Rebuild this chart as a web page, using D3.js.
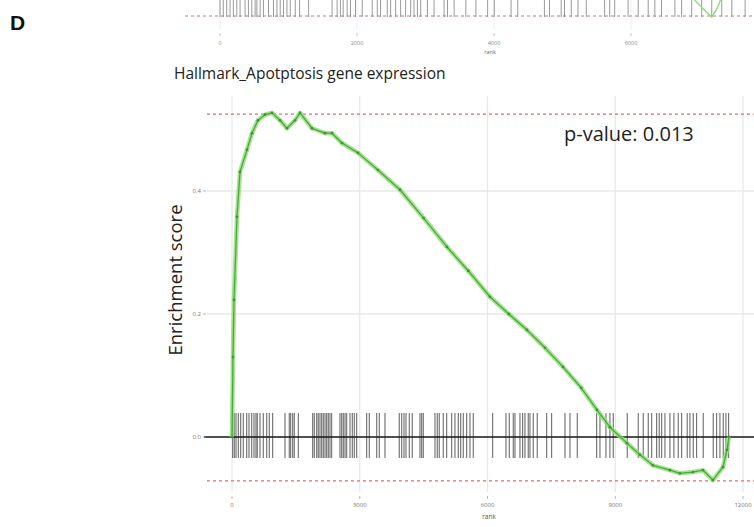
<!DOCTYPE html>
<html><head><meta charset="utf-8">
<script src="https://cdn.jsdelivr.net/npm/d3@7"></script>
<style>body{margin:0;background:#fff}svg{display:block}</style>
</head><body>
<svg id="c" width="754" height="527"></svg>
<script>
// ---- main panel data ----
const esRank = [0,23,47,117,188,352,470,610,775,939,1127,1291,1479,1597,1878,2184,2348,2583,2958,3428,3945,4500,5048,5550,6058,6500,6927,7350,7772,8200,8570,8875,9275,9580,9885,10284,10519,10824,11059,11294,11529,11623,11670];
const esValue = [0,0.130,0.223,0.358,0.431,0.467,0.494,0.515,0.524,0.527,0.515,0.502,0.515,0.527,0.502,0.494,0.494,0.478,0.462,0.434,0.402,0.356,0.309,0.270,0.228,0.200,0.174,0.145,0.114,0.080,0.044,0.016,-0.010,-0.029,-0.046,-0.054,-0.059,-0.057,-0.054,-0.070,-0.049,-0.021,0];
const hitRanks = [16,54,94,148,204,265,345,399,463,517,563,594,657,735,815,876,955,1244,1345,1378,1425,1463,1557,1895,1932,1989,2026,2066,2106,2144,2184,2223,2261,2301,2341,2536,2576,2614,2654,2693,2771,2825,2872,2928,3163,3224,3398,3459,3592,3928,3985,4039,4086,4163,4233,4414,4454,4492,4766,4820,4867,4961,5041,5159,5236,5314,5370,5431,5511,5588,5666,6121,6434,6511,6605,6645,6762,6825,6879,6957,6997,7075,7168,7389,7506,7819,7936,8108,8563,8641,8782,8875,8953,9282,9540,9657,9775,9855,9972,10033,10090,10167,10284,10378,10479,10559,10690,10754,10831,10911,11066,11301,11381,11458,11536,11599,11662];
const xTicks = [0,3000,6000,9000,12000];
const yTicks = [0.0,0.2,0.4];
const esMax = 0.525, esMin = -0.0715;
const titleText = "Hallmark_Apotptosis gene expression";
const pText = "p-value: 0.013";
// ---- partial panel above (cut off) ----
const topHits = [0,48,98,147,195,245,293,366,415,464,513,538,586,634,708,781,831,879,927,977,1026,1099,1162,1294,1636,1710,1758,1798,1856,1905,1978,2076,2222,2296,2344,2442,2491,2564,2637,2710,2784,2832,2882,2930,3028,3125,3271,3321,3418,3589,3736,3907,4004,4249,4347,4736,4810,4981,5029,5128,5226,5347,5615,5689,5762,5958,6105,6251,6348,6446,6641,6739,6886,7032,7179,7325,7472,7666];
const topTicks = [0,2000,4000,6000];
const topCurveRank = [6700,6886,7000,7179,7260,7325,7420];
const topCurveES = [-0.30,-0.33,-0.36,-0.40,-0.37,-0.33,-0.30];

const svg = d3.select("#c");
const font = "'Open Sans', 'Noto Sans', sans-serif";

// ===== top partial panel =====
const tx = d3.scaleLinear().domain([0,2000]).range([220,357]);
const ty = d3.scaleLinear().domain([-0.4,0]).range([17,-100]);
const tg = svg.append("g");
tg.selectAll("line.tgrid").data(topTicks).join("line")
  .attr("x1",d=>tx(d)).attr("x2",d=>tx(d)).attr("y1",0).attr("y2",30)
  .attr("stroke","#efefef").attr("stroke-width",1);
tg.selectAll("line.thit").data(topHits).join("line")
  .attr("x1",d=>tx(d)).attr("x2",d=>tx(d)).attr("y1",0).attr("y2",17)
  .attr("stroke","#555").attr("stroke-opacity",0.6).attr("stroke-width",1);
tg.append("line").attr("x1",185).attr("x2",754).attr("y1",ty(-0.4)-1).attr("y2",ty(-0.4)-1)
  .attr("stroke","#d9706f").attr("stroke-width",1.1).attr("stroke-dasharray","3,3");
tg.append("path").datum(topCurveRank.map((r,i)=>[r,topCurveES[i]]))
  .attr("d",d3.line().x(d=>tx(d[0])).y(d=>ty(d[1])))
  .attr("fill","none").attr("stroke","#9ad982").attr("stroke-width",1.5);
tg.selectAll("line.ttick").data(topTicks).join("line")
  .attr("x1",d=>tx(d)).attr("x2",d=>tx(d)).attr("y1",33).attr("y2",36)
  .attr("stroke","#999").attr("stroke-width",0.6);
tg.selectAll("text.tl").data(topTicks).join("text")
  .attr("x",d=>tx(d)).attr("y",45).attr("text-anchor","middle")
  .attr("font-family",font).attr("font-size",5.5).attr("fill","#888").text(d=>d);
tg.append("text").attr("x",490).attr("y",54).attr("text-anchor","middle")
  .attr("font-family",font).attr("font-size",5.5).attr("fill","#666").text("rank");

svg.append("text").attr("x",10).attr("y",30).attr("font-family","'Liberation Sans', Arial, sans-serif")
  .attr("font-weight","bold").attr("font-size",21).attr("fill","#111").text("D");

// ===== main panel =====
const x = d3.scaleLinear().domain([0,12000]).range([232,743]);
const y = d3.scaleLinear().domain([0,0.4]).range([437,191]);
const pl = 207, pr = 754, pt = 96, pb = 492;
const g = svg.append("g");

g.selectAll("line.vg").data(xTicks).join("line")
  .attr("x1",d=>x(d)).attr("x2",d=>x(d)).attr("y1",pt).attr("y2",pb)
  .attr("stroke","#e8e8e8").attr("stroke-width",1.3);
g.selectAll("line.hg").data(yTicks).join("line")
  .attr("x1",pl).attr("x2",pr).attr("y1",d=>y(d)).attr("y2",d=>y(d))
  .attr("stroke","#e8e8e8").attr("stroke-width",1.3);

// hits barcode
g.selectAll("line.hit").data(hitRanks).join("line")
  .attr("x1",d=>x(d)).attr("x2",d=>x(d)).attr("y1",413).attr("y2",458)
  .attr("stroke","#333").attr("stroke-opacity",0.72).attr("stroke-width",1.1);
// zero line
g.append("line").attr("x1",pl-3).attr("x2",pr).attr("y1",y(0)).attr("y2",y(0))
  .attr("stroke","#1a1a1a").attr("stroke-width",1.5);
// dashed max/min
[esMax, esMin].forEach(v=>{
  g.append("line").attr("x1",pl).attr("x2",pr).attr("y1",y(v)).attr("y2",y(v))
    .attr("stroke","#d9706f").attr("stroke-width",1.2).attr("stroke-dasharray","3,3");
});

// curve
const pts = esRank.map((r,i)=>[r,esValue[i]]);
const line = d3.line().x(d=>x(d[0])).y(d=>y(d[1]));
g.append("path").datum(pts).attr("d",line).attr("fill","none")
  .attr("stroke","#8fde70").attr("stroke-width",4.5).attr("stroke-linejoin","round").attr("stroke-opacity",0.8);
g.append("path").datum(pts).attr("d",line).attr("fill","none")
  .attr("stroke","#4aa844").attr("stroke-width",1.3).attr("stroke-linejoin","round");
g.selectAll("circle.pt").data(pts).join("circle")
  .attr("cx",d=>x(d[0])).attr("cy",d=>y(d[1])).attr("r",1.4).attr("fill","#3f963a");

// axes ticks
g.selectAll("line.yt").data(yTicks).join("line")
  .attr("x1",pl-4).attr("x2",pl-1).attr("y1",d=>y(d)).attr("y2",d=>y(d))
  .attr("stroke","#999").attr("stroke-width",0.7);
g.selectAll("text.yl").data(yTicks).join("text")
  .attr("x",pl-6).attr("y",d=>y(d)+2).attr("text-anchor","end")
  .attr("font-family",font).attr("font-size",6).attr("fill","#777").text(d=>d3.format(".1f")(d));
g.selectAll("line.xt").data(xTicks).join("line")
  .attr("x1",d=>x(d)).attr("x2",d=>x(d)).attr("y1",pb+4).attr("y2",pb+7)
  .attr("stroke","#999").attr("stroke-width",0.7);
g.selectAll("text.xl").data(xTicks).join("text")
  .attr("x",d=>x(d)).attr("y",pb+15).attr("text-anchor","middle")
  .attr("font-family",font).attr("font-size",6).attr("fill","#777").text(d=>d);
g.append("text").attr("x",489).attr("y",519).attr("text-anchor","middle")
  .attr("font-family",font).attr("font-size",6.5).attr("fill","#555").text("rank");

// labels
svg.append("text").attr("x",174).attr("y",79).attr("font-family",font)
  .attr("font-size",15.5).attr("fill","#222").text(titleText);
svg.append("text").attr("x",564).attr("y",141).attr("font-family",font)
  .attr("font-size",20).attr("fill","#222").text(pText);
svg.append("text").attr("transform","translate(182,280) rotate(-90)").attr("text-anchor","middle")
  .attr("font-family",font).attr("font-size",18.5).attr("fill","#222").text("Enrichment score");
</script>
</body></html>
